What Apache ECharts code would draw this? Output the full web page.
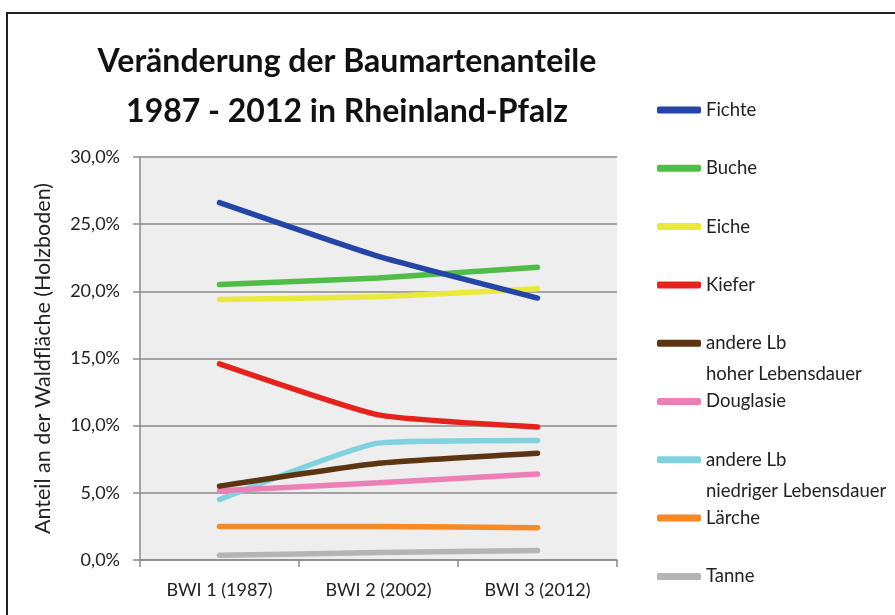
<!DOCTYPE html>
<html>
<head>
<meta charset="utf-8">
<script src="https://cdn.jsdelivr.net/npm/echarts@6/dist/echarts.min.js"></script>
<style>
  html, body { margin: 0; padding: 0; background: #fff; }
  #frame {
    position: absolute; left: 6px; top: 12px;
    width: 900px; height: 620px;
    border: 2px solid #222;
  }
  #myChart { position: absolute; left: 0; top: 0; width: 895px; height: 615px; }
</style>
</head>
<body>
<div id="frame"></div>
<div id="myChart"></div>
<script>
// Daten (Anteil in %)
var categories = ['BWI 1 (1987)', 'BWI 2 (2002)', 'BWI 3 (2012)'];
var names = ['Fichte', 'Buche', 'Eiche', 'Kiefer', 'andere Lb\nhoher Lebensdauer',
  'Douglasie', 'andere Lb\nniedriger Lebensdauer', 'Lärche', 'Tanne'];
var fichte = [26.6, 22.6, 19.5];
var buche = [20.5, 21.0, 21.8];
var eiche = [19.4, 19.6, 20.2];
var kiefer = [14.6, 10.8, 9.9];
var lbHoch = [5.5, 7.2, 7.95];
var douglasie = [5.15, 5.75, 6.4];
var lbNiedrig = [4.5, 8.7, 8.9];
var laerche = [2.5, 2.5, 2.4];
var tanne = [0.35, 0.55, 0.7];
var yTicks = [0, 5, 10, 15, 20, 25, 30];

var values = [fichte, buche, eiche, kiefer, lbHoch, douglasie, lbNiedrig, laerche, tanne];
var colors = ['#2545a6', '#4fbd48', '#e9e93c', '#e4241c', '#5b3412', '#ea80b6', '#80d2df', '#f68a26', '#b4b4b4'];

var myChart = echarts.init(document.getElementById('myChart'));

var series = names.map(function (n, i) {
  return {
    name: n,
    type: 'line',
    data: values[i],
    showSymbol: false,
    symbol: 'none',
    smooth: 0.15,
    lineStyle: { width: 5.5, color: colors[i], cap: 'round' },
    itemStyle: { color: colors[i] },
    z: 10 - i
  };
});

// eine Legende pro Eintrag, damit die Abstaende gleich bleiben
var LH = 31;
var legends = names.map(function (n, i) {
  var twoLines = n.indexOf('\n') >= 0;
  var h = twoLines ? LH * 3 : LH;
  var center = 110 + i * 58.3;
  return {
    orient: 'vertical',
    left: 657,
    top: center - h / 2,
    padding: 0,
    data: [n],
    icon: 'roundRect',
    itemWidth: 44,
    itemHeight: 7,
    selectedMode: false,
    // leere erste Zeile: Symbol steht dann auf Hoehe der ersten Textzeile
    formatter: function (name) { return name.indexOf('\n') >= 0 ? ' \n' + name : name; },
    textStyle: {
      fontFamily: 'Lato',
      fontSize: 18.5,
      color: '#222',
      lineHeight: LH
    }
  };
});

var option = {
  animation: false,
  title: {
    text: 'Veränderung der Baumartenanteile\n1987 - 2012 in Rheinland-Pfalz',
    left: 342,
    textAlign: 'center',
    top: 32,
    textStyle: { fontFamily: 'Lato', fontSize: 32, fontWeight: 'bold', color: '#111', lineHeight: 50 }
  },
  legend: legends,
  grid: {
    left: 140, top: 157, width: 477, height: 403,
    show: true, backgroundColor: '#eeeeee', borderWidth: 0
  },
  xAxis: {
    type: 'category',
    data: categories,
    boundaryGap: true,
    axisLine: { lineStyle: { color: '#8a8a8a', width: 1.5 } },
    axisTick: { show: true, length: 7, lineStyle: { color: '#8a8a8a', width: 1.5 } },
    axisLabel: { fontFamily: 'Lato', fontSize: 18, color: '#222', margin: 21 }
  },
  yAxis: {
    type: 'value',
    min: yTicks[0],
    max: yTicks[yTicks.length - 1],
    interval: 5,
    name: 'Anteil an der Waldfläche (Holzboden)',
    nameLocation: 'middle',
    nameGap: 86,
    nameTextStyle: { fontFamily: 'Lato', fontSize: 21.5, color: '#222' },
    axisLine: { show: true, lineStyle: { color: '#8a8a8a', width: 1.5 } },
    axisTick: { show: true, length: 7, lineStyle: { color: '#8a8a8a', width: 1.5 } },
    splitLine: { lineStyle: { color: '#8a8a8a', width: 1.5 } },
    axisLabel: {
      fontFamily: 'Lato', fontSize: 18, color: '#222', margin: 20,
      formatter: function (v) { return v.toFixed(1).replace('.', ',') + '%'; }
    }
  },
  series: series
};

myChart.setOption(option);
window.addEventListener('resize', function () { myChart.resize(); });
</script>
</body>
</html>
